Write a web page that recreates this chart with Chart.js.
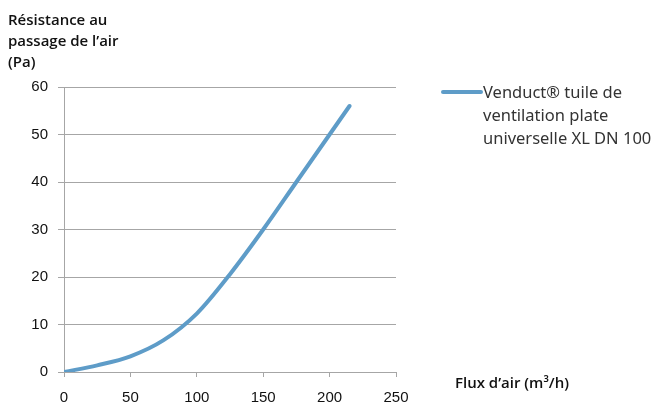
<!DOCTYPE html>
<html>
<head>
<meta charset="utf-8">
<script src="https://cdn.jsdelivr.net/npm/chart.js@4"></script>
<style>
  html, body { margin: 0; padding: 0; background: #fff; }
  #wrap { width: 662px; height: 403px; position: relative; }
</style>
</head>
<body>
<div id="wrap"><canvas id="myChart" width="662" height="403"></canvas></div>
<script>
// values
const flux = [0, 25, 50, 75, 100, 125, 150, 175, 200, 215];
const resistance = [0, 1.4, 3.3, 6.7, 12.3, 20.6, 30, 40, 50, 56];
const seriesLabel = ['Venduct\u00AE tuile de', 'ventilation plate', 'universelle XL DN 100'];
const yTitle = ['R\u00E9sistance au', 'passage de l\u2019air', '(Pa)'];
const xTitle = 'Flux d\u2019air (m\u00B3/h)';

const lineColor = 'rgb(94, 156, 200)';
const gridColor = '#a6a6a6';

// titles and the wrapped legend are drawn by hand
const textPlugin = {
  id: 'texts',
  afterDraw(chart) {
    const ctx = chart.ctx;
    ctx.save();
    ctx.fillStyle = '#111';
    ctx.textBaseline = 'middle';
    ctx.font = '600 15px "Open Sans"';
    yTitle.forEach((t, i) => ctx.fillText(t, 8, 21 + i * 21));
    ctx.fillText(xTitle, 455, 384);

    // legend
    ctx.strokeStyle = lineColor;
    ctx.lineWidth = 4;
    ctx.lineCap = 'round';
    ctx.beginPath();
    ctx.moveTo(443, 92);
    ctx.lineTo(481, 92);
    ctx.stroke();
    ctx.fillStyle = '#333';
    ctx.font = '16.5px "Noto Sans"';
    seriesLabel.forEach((t, i) => ctx.fillText(t, 483, 93 + i * 23));
    ctx.restore();
  }
};

new Chart(document.getElementById('myChart'), {
  type: 'line',
  data: {
    datasets: [{
      label: seriesLabel.join(' '),
      data: flux.map((x, i) => ({ x: x, y: resistance[i] })),
      borderColor: lineColor,
      borderWidth: 4,
      pointRadius: 0,
      fill: false,
      cubicInterpolationMode: 'monotone',
      borderCapStyle: 'round'
    }]
  },
  options: {
    responsive: false,
    animation: false,
    devicePixelRatio: 1,
    layout: { padding: { top: 87, right: 266, left: 0, bottom: 0 } },
    plugins: { legend: { display: false }, tooltip: { enabled: false } },
    scales: {
      x: {
        type: 'linear',
        min: 0, max: 250,
        ticks: { stepSize: 50, color: '#111', font: { family: 'Liberation Sans', size: 15 }, padding: 12 },
        grid: { drawOnChartArea: false, drawTicks: true, tickLength: 5, color: gridColor },
        border: { color: gridColor },
        afterFit: s => { s.height = 31; }
      },
      y: {
        min: 0, max: 60,
        ticks: { stepSize: 10, color: '#111', font: { family: 'Liberation Sans', size: 15 }, padding: 10 },
        grid: { color: gridColor, tickLength: 6 },
        border: { color: gridColor },
        afterFit: s => { s.width = 64; }
      }
    }
  },
  plugins: [textPlugin]
});
</script>
</body>
</html>
